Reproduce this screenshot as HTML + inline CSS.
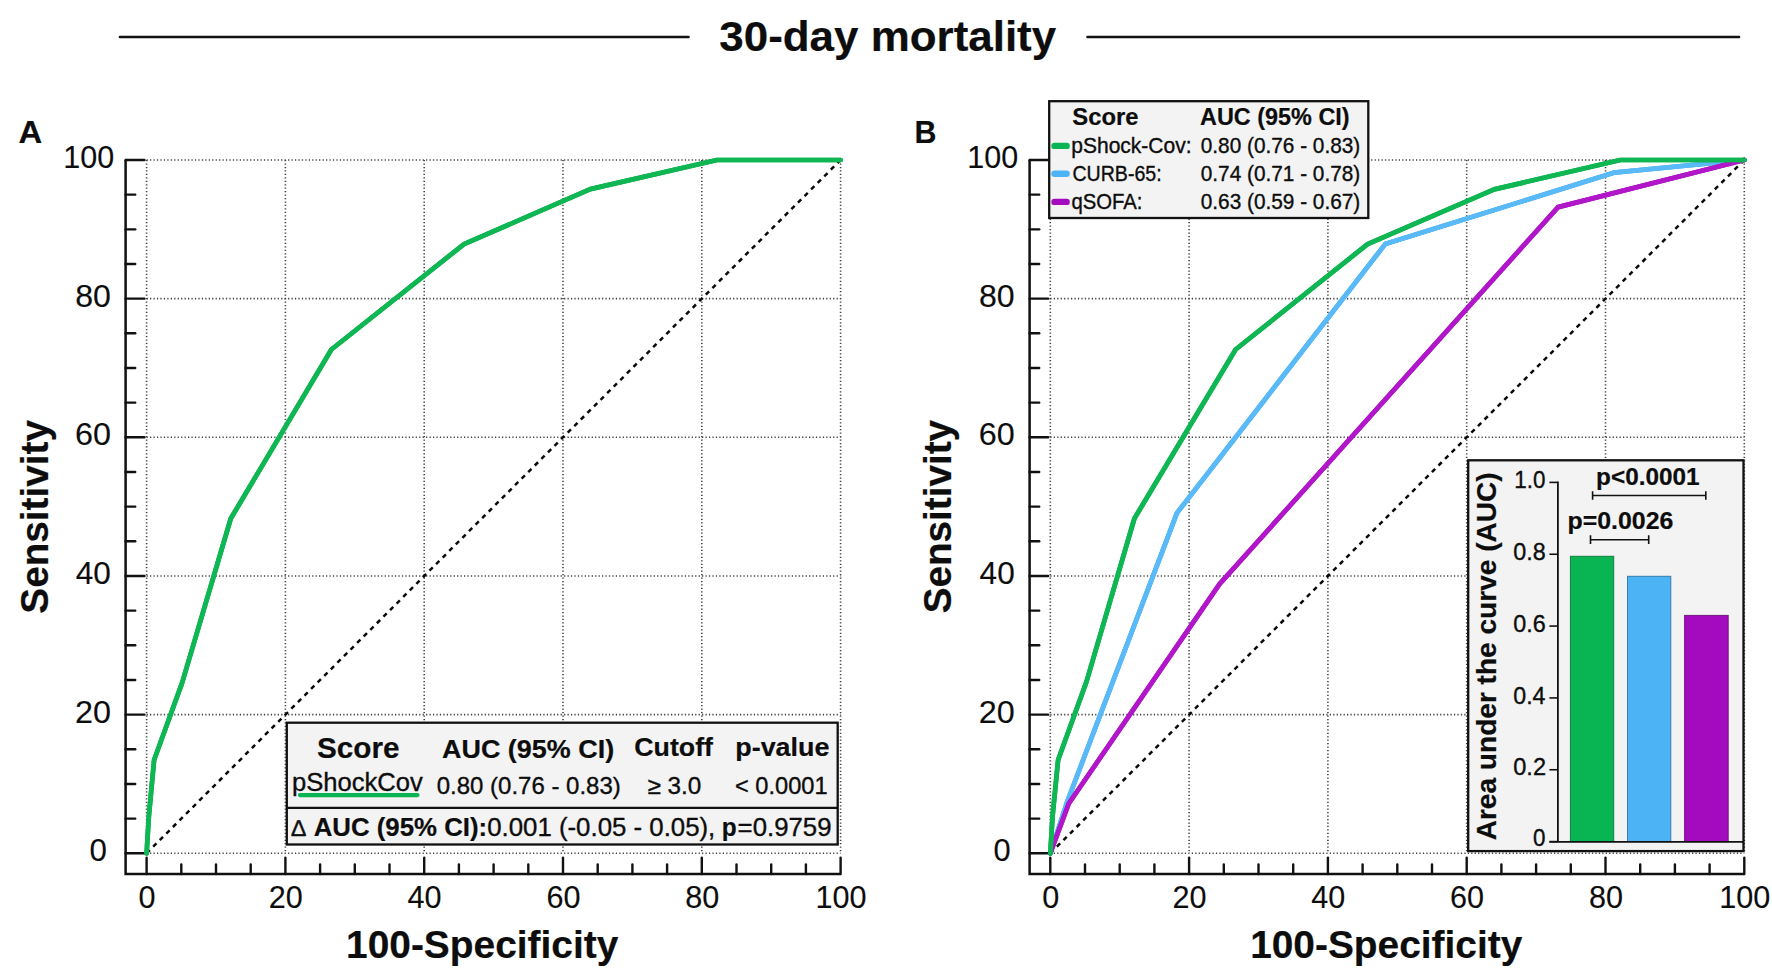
<!DOCTYPE html>
<html lang="en">
<head>
<meta charset="utf-8">
<title>30-day mortality</title>
<style>
html,body{margin:0;padding:0;background:#fff;}
body{width:1772px;height:970px;overflow:hidden;}
svg{display:block;font-family:"Liberation Sans", Arial, Helvetica, sans-serif;fill:#0d0d0d;}
text{stroke:#0d0d0d;stroke-width:0.35px;stroke-linejoin:round;}
text.b{stroke-width:0.2px;}
.g{stroke:#444;stroke-width:1.6;stroke-dasharray:1.25 2.2;fill:none;}
.d{stroke:#0a0a0a;stroke-width:2.5;stroke-dasharray:4.6 4.7;fill:none;}
.ax{stroke:#111;stroke-width:2.5;fill:none;stroke-linejoin:miter;}
.tk{stroke:#111;stroke-width:2.4;fill:none;stroke-linecap:round;}
.tl{font-size:30.6px;stroke-width:0.12px;}
.c{fill:none;stroke-width:4.7;stroke-linejoin:round;stroke-linecap:round;}
.b{font-weight:bold;}
.box{fill:#f3f3f3;stroke:#111;stroke-width:2.3;}
</style>
</head>
<body>
<svg width="1772" height="970" viewBox="0 0 1772 970">
<rect width="1772" height="970" fill="#fff"/>

<line x1="120" y1="37" x2="688.5" y2="37" stroke="#111" stroke-width="2.6" stroke-linecap="round"/>
<line x1="1087.5" y1="37" x2="1739" y2="37" stroke="#111" stroke-width="2.6" stroke-linecap="round"/>
<text id="title" class="b" font-size="42.5" x="719.32" y="51.00" textLength="336.84" lengthAdjust="spacingAndGlyphs">30-day mortality</text>
<text id="lblA" class="b" font-size="30.7" x="18.55" y="143.30" textLength="23.72" lengthAdjust="spacingAndGlyphs">A</text>
<line class="g" x1="146.60" y1="160.00" x2="146.60" y2="853.30"/>
<line class="g" x1="146.60" y1="853.30" x2="840.60" y2="853.30"/>
<line class="g" x1="285.40" y1="160.00" x2="285.40" y2="853.30"/>
<line class="g" x1="146.60" y1="714.64" x2="840.60" y2="714.64"/>
<line class="g" x1="424.20" y1="160.00" x2="424.20" y2="853.30"/>
<line class="g" x1="146.60" y1="575.98" x2="840.60" y2="575.98"/>
<line class="g" x1="563.00" y1="160.00" x2="563.00" y2="853.30"/>
<line class="g" x1="146.60" y1="437.32" x2="840.60" y2="437.32"/>
<line class="g" x1="701.80" y1="160.00" x2="701.80" y2="853.30"/>
<line class="g" x1="146.60" y1="298.66" x2="840.60" y2="298.66"/>
<line class="g" x1="840.60" y1="160.00" x2="840.60" y2="853.30"/>
<line class="g" x1="146.60" y1="160.00" x2="840.60" y2="160.00"/>
<line class="d" x1="146.60" y1="853.30" x2="840.60" y2="160.00"/>
<path class="ax" d="M125.60 160.00V874.00H840.60"/>
<line class="tk" x1="125.60" y1="853.30" x2="144.40" y2="853.30"/>
<line class="tk" x1="146.60" y1="874.00" x2="146.60" y2="857.70"/>
<text id="ay0" class="tl" font-size="30.6" x="89.42" y="861.30" textLength="17.42" lengthAdjust="spacingAndGlyphs">0</text>
<text class="tl" text-anchor="middle" x="147.00" y="907.90">0</text>
<line class="tk" x1="125.60" y1="818.63" x2="135.20" y2="818.63"/>
<line class="tk" x1="181.30" y1="874.00" x2="181.30" y2="864.40"/>
<line class="tk" x1="125.60" y1="783.97" x2="135.20" y2="783.97"/>
<line class="tk" x1="216.00" y1="874.00" x2="216.00" y2="864.40"/>
<line class="tk" x1="125.60" y1="749.30" x2="135.20" y2="749.30"/>
<line class="tk" x1="250.70" y1="874.00" x2="250.70" y2="864.40"/>
<line class="tk" x1="125.60" y1="714.64" x2="144.40" y2="714.64"/>
<line class="tk" x1="285.40" y1="874.00" x2="285.40" y2="857.70"/>
<text id="ay20" class="tl" font-size="30.6" x="74.97" y="722.64" textLength="35.98" lengthAdjust="spacingAndGlyphs">20</text>
<text class="tl" text-anchor="middle" x="285.80" y="907.90">20</text>
<line class="tk" x1="125.60" y1="679.97" x2="135.20" y2="679.97"/>
<line class="tk" x1="320.10" y1="874.00" x2="320.10" y2="864.40"/>
<line class="tk" x1="125.60" y1="645.31" x2="135.20" y2="645.31"/>
<line class="tk" x1="354.80" y1="874.00" x2="354.80" y2="864.40"/>
<line class="tk" x1="125.60" y1="610.64" x2="135.20" y2="610.64"/>
<line class="tk" x1="389.50" y1="874.00" x2="389.50" y2="864.40"/>
<line class="tk" x1="125.60" y1="575.98" x2="144.40" y2="575.98"/>
<line class="tk" x1="424.20" y1="874.00" x2="424.20" y2="857.70"/>
<text id="ay40" class="tl" font-size="30.6" x="75.78" y="583.98" textLength="35.14" lengthAdjust="spacingAndGlyphs">40</text>
<text class="tl" text-anchor="middle" x="424.60" y="907.90">40</text>
<line class="tk" x1="125.60" y1="541.31" x2="135.20" y2="541.31"/>
<line class="tk" x1="458.90" y1="874.00" x2="458.90" y2="864.40"/>
<line class="tk" x1="125.60" y1="506.65" x2="135.20" y2="506.65"/>
<line class="tk" x1="493.60" y1="874.00" x2="493.60" y2="864.40"/>
<line class="tk" x1="125.60" y1="471.98" x2="135.20" y2="471.98"/>
<line class="tk" x1="528.30" y1="874.00" x2="528.30" y2="864.40"/>
<line class="tk" x1="125.60" y1="437.32" x2="144.40" y2="437.32"/>
<line class="tk" x1="563.00" y1="874.00" x2="563.00" y2="857.70"/>
<text id="ay60" class="tl" font-size="30.6" x="74.97" y="445.32" textLength="35.98" lengthAdjust="spacingAndGlyphs">60</text>
<text class="tl" text-anchor="middle" x="563.40" y="907.90">60</text>
<line class="tk" x1="125.60" y1="402.65" x2="135.20" y2="402.65"/>
<line class="tk" x1="597.70" y1="874.00" x2="597.70" y2="864.40"/>
<line class="tk" x1="125.60" y1="367.99" x2="135.20" y2="367.99"/>
<line class="tk" x1="632.40" y1="874.00" x2="632.40" y2="864.40"/>
<line class="tk" x1="125.60" y1="333.32" x2="135.20" y2="333.32"/>
<line class="tk" x1="667.10" y1="874.00" x2="667.10" y2="864.40"/>
<line class="tk" x1="125.60" y1="298.66" x2="144.40" y2="298.66"/>
<line class="tk" x1="701.80" y1="874.00" x2="701.80" y2="857.70"/>
<text id="ay80" class="tl" font-size="30.6" x="75.25" y="306.66" textLength="35.69" lengthAdjust="spacingAndGlyphs">80</text>
<text class="tl" text-anchor="middle" x="702.20" y="907.90">80</text>
<line class="tk" x1="125.60" y1="264.00" x2="135.20" y2="264.00"/>
<line class="tk" x1="736.50" y1="874.00" x2="736.50" y2="864.40"/>
<line class="tk" x1="125.60" y1="229.33" x2="135.20" y2="229.33"/>
<line class="tk" x1="771.20" y1="874.00" x2="771.20" y2="864.40"/>
<line class="tk" x1="125.60" y1="194.66" x2="135.20" y2="194.66"/>
<line class="tk" x1="805.90" y1="874.00" x2="805.90" y2="864.40"/>
<line class="tk" x1="125.60" y1="160.00" x2="144.40" y2="160.00"/>
<line class="tk" x1="840.60" y1="874.00" x2="840.60" y2="857.70"/>
<text id="ay100" class="tl" font-size="30.6" x="63.26" y="168.00" textLength="50.89" lengthAdjust="spacingAndGlyphs">100</text>
<text class="tl" text-anchor="middle" x="841.00" y="907.90">100</text>
<polyline class="c" stroke="#08a742" points="146.6,853.3 148.8,817 154.1,760 182.1,682.9 230.8,518.5 331.4,349.5 464,244.1 590.3,189.1 717,160 840.6,160"/>
<polyline class="c" stroke="#0eb753" stroke-width="1.7" points="146.6,853.3 148.8,817 154.1,760 182.1,682.9 230.8,518.5 331.4,349.5 464,244.1 590.3,189.1 717,160 840.6,160"/>
<text id="sensA" class="b" font-size="38" transform="translate(48.30 613.67) rotate(-90)" textLength="193.60" lengthAdjust="spacingAndGlyphs">Sensitivity</text>
<text id="specA" class="b" font-size="38.2" x="346.01" y="957.60" textLength="272.40" lengthAdjust="spacingAndGlyphs">100-Specificity</text>
<rect class="box" x="286.8" y="722.7" width="550.9" height="121.8"/>
<line x1="286.8" y1="807.8" x2="837.7" y2="807.8" stroke="#111" stroke-width="2.3"/>
<text id="a_score" class="b" font-size="29" x="316.93" y="758.20" textLength="82.55" lengthAdjust="spacingAndGlyphs">Score</text>
<text id="a_auc" class="b" font-size="26.3" x="441.99" y="758.00" textLength="172.12" lengthAdjust="spacingAndGlyphs">AUC (95% CI)</text>
<text id="a_cut" class="b" font-size="26" x="634.32" y="756.10" textLength="78.69" lengthAdjust="spacingAndGlyphs">Cutoff</text>
<text id="a_pv" class="b" font-size="26" x="735.24" y="756.10" textLength="94.26" lengthAdjust="spacingAndGlyphs">p-value</text>
<text id="a_name" font-size="25.3" x="291.98" y="790.70" textLength="130.89" lengthAdjust="spacingAndGlyphs">pShockCov</text>
<line x1="300" y1="795.1" x2="417.5" y2="795.1" stroke="#09b452" stroke-width="4.2" stroke-linecap="round"/>
<text id="a_val" font-size="23.6" x="436.79" y="793.70" textLength="183.93" lengthAdjust="spacingAndGlyphs">0.80 (0.76 - 0.83)</text>
<text id="a_ge" font-size="23.8" x="647.49" y="794.00" textLength="53.79" lengthAdjust="spacingAndGlyphs">≥ 3.0</text>
<text id="a_lt" font-size="23.6" x="735.00" y="794.00" textLength="92.60" lengthAdjust="spacingAndGlyphs">&lt; 0.0001</text>
<text id="a_d" font-size="23" x="291.40" y="836.30" textLength="14.27" lengthAdjust="spacingAndGlyphs">∆</text>
<text id="a_dauc" class="b" font-size="25.6" x="313.65" y="836.20" textLength="173.54" lengthAdjust="spacingAndGlyphs">AUC (95% CI):</text>
<text id="a_dval" font-size="25.6" x="487.19" y="836.20" textLength="228.09" lengthAdjust="spacingAndGlyphs">0.001 (-0.05 - 0.05),</text>
<text id="a_dp" class="b" font-size="25.6" x="721.87" y="836.20" textLength="14.92" lengthAdjust="spacingAndGlyphs">p</text>
<text id="a_dpv" font-size="25.6" x="737.64" y="836.20" textLength="93.90" lengthAdjust="spacingAndGlyphs">=0.9759</text>
<text id="lblB" class="b" font-size="30.7" x="914.42" y="143.20" textLength="21.94" lengthAdjust="spacingAndGlyphs">B</text>
<line class="g" x1="1050.30" y1="160.00" x2="1050.30" y2="853.30"/>
<line class="g" x1="1050.30" y1="853.30" x2="1744.30" y2="853.30"/>
<line class="g" x1="1189.10" y1="160.00" x2="1189.10" y2="853.30"/>
<line class="g" x1="1050.30" y1="714.64" x2="1744.30" y2="714.64"/>
<line class="g" x1="1327.90" y1="160.00" x2="1327.90" y2="853.30"/>
<line class="g" x1="1050.30" y1="575.98" x2="1744.30" y2="575.98"/>
<line class="g" x1="1466.70" y1="160.00" x2="1466.70" y2="853.30"/>
<line class="g" x1="1050.30" y1="437.32" x2="1744.30" y2="437.32"/>
<line class="g" x1="1605.50" y1="160.00" x2="1605.50" y2="853.30"/>
<line class="g" x1="1050.30" y1="298.66" x2="1744.30" y2="298.66"/>
<line class="g" x1="1744.30" y1="160.00" x2="1744.30" y2="853.30"/>
<line class="g" x1="1050.30" y1="160.00" x2="1744.30" y2="160.00"/>
<line class="d" x1="1050.30" y1="853.30" x2="1744.30" y2="160.00"/>
<path class="ax" d="M1029.60 160.00V874.00H1744.30"/>
<line class="tk" x1="1029.60" y1="853.30" x2="1048.10" y2="853.30"/>
<line class="tk" x1="1050.30" y1="874.00" x2="1050.30" y2="857.70"/>
<text id="by0" class="tl" font-size="30.6" x="993.49" y="861.30" textLength="17.13" lengthAdjust="spacingAndGlyphs">0</text>
<text class="tl" text-anchor="middle" x="1050.70" y="907.90">0</text>
<line class="tk" x1="1029.60" y1="818.63" x2="1039.20" y2="818.63"/>
<line class="tk" x1="1085.00" y1="874.00" x2="1085.00" y2="864.40"/>
<line class="tk" x1="1029.60" y1="783.97" x2="1039.20" y2="783.97"/>
<line class="tk" x1="1119.70" y1="874.00" x2="1119.70" y2="864.40"/>
<line class="tk" x1="1029.60" y1="749.30" x2="1039.20" y2="749.30"/>
<line class="tk" x1="1154.40" y1="874.00" x2="1154.40" y2="864.40"/>
<line class="tk" x1="1029.60" y1="714.64" x2="1048.10" y2="714.64"/>
<line class="tk" x1="1189.10" y1="874.00" x2="1189.10" y2="857.70"/>
<text id="by20" class="tl" font-size="30.6" x="978.77" y="722.64" textLength="35.98" lengthAdjust="spacingAndGlyphs">20</text>
<text class="tl" text-anchor="middle" x="1189.50" y="907.90">20</text>
<line class="tk" x1="1029.60" y1="679.97" x2="1039.20" y2="679.97"/>
<line class="tk" x1="1223.80" y1="874.00" x2="1223.80" y2="864.40"/>
<line class="tk" x1="1029.60" y1="645.31" x2="1039.20" y2="645.31"/>
<line class="tk" x1="1258.50" y1="874.00" x2="1258.50" y2="864.40"/>
<line class="tk" x1="1029.60" y1="610.64" x2="1039.20" y2="610.64"/>
<line class="tk" x1="1293.20" y1="874.00" x2="1293.20" y2="864.40"/>
<line class="tk" x1="1029.60" y1="575.98" x2="1048.10" y2="575.98"/>
<line class="tk" x1="1327.90" y1="874.00" x2="1327.90" y2="857.70"/>
<text id="by40" class="tl" font-size="30.6" x="979.58" y="583.98" textLength="35.14" lengthAdjust="spacingAndGlyphs">40</text>
<text class="tl" text-anchor="middle" x="1328.30" y="907.90">40</text>
<line class="tk" x1="1029.60" y1="541.31" x2="1039.20" y2="541.31"/>
<line class="tk" x1="1362.60" y1="874.00" x2="1362.60" y2="864.40"/>
<line class="tk" x1="1029.60" y1="506.65" x2="1039.20" y2="506.65"/>
<line class="tk" x1="1397.30" y1="874.00" x2="1397.30" y2="864.40"/>
<line class="tk" x1="1029.60" y1="471.98" x2="1039.20" y2="471.98"/>
<line class="tk" x1="1432.00" y1="874.00" x2="1432.00" y2="864.40"/>
<line class="tk" x1="1029.60" y1="437.32" x2="1048.10" y2="437.32"/>
<line class="tk" x1="1466.70" y1="874.00" x2="1466.70" y2="857.70"/>
<text id="by60" class="tl" font-size="30.6" x="978.77" y="445.32" textLength="35.98" lengthAdjust="spacingAndGlyphs">60</text>
<text class="tl" text-anchor="middle" x="1467.10" y="907.90">60</text>
<line class="tk" x1="1029.60" y1="402.65" x2="1039.20" y2="402.65"/>
<line class="tk" x1="1501.40" y1="874.00" x2="1501.40" y2="864.40"/>
<line class="tk" x1="1029.60" y1="367.99" x2="1039.20" y2="367.99"/>
<line class="tk" x1="1536.10" y1="874.00" x2="1536.10" y2="864.40"/>
<line class="tk" x1="1029.60" y1="333.32" x2="1039.20" y2="333.32"/>
<line class="tk" x1="1570.80" y1="874.00" x2="1570.80" y2="864.40"/>
<line class="tk" x1="1029.60" y1="298.66" x2="1048.10" y2="298.66"/>
<line class="tk" x1="1605.50" y1="874.00" x2="1605.50" y2="857.70"/>
<text id="by80" class="tl" font-size="30.6" x="979.04" y="306.66" textLength="35.69" lengthAdjust="spacingAndGlyphs">80</text>
<text class="tl" text-anchor="middle" x="1605.90" y="907.90">80</text>
<line class="tk" x1="1029.60" y1="264.00" x2="1039.20" y2="264.00"/>
<line class="tk" x1="1640.20" y1="874.00" x2="1640.20" y2="864.40"/>
<line class="tk" x1="1029.60" y1="229.33" x2="1039.20" y2="229.33"/>
<line class="tk" x1="1674.90" y1="874.00" x2="1674.90" y2="864.40"/>
<line class="tk" x1="1029.60" y1="194.66" x2="1039.20" y2="194.66"/>
<line class="tk" x1="1709.60" y1="874.00" x2="1709.60" y2="864.40"/>
<line class="tk" x1="1029.60" y1="160.00" x2="1048.10" y2="160.00"/>
<line class="tk" x1="1744.30" y1="874.00" x2="1744.30" y2="857.70"/>
<text id="by100" class="tl" font-size="30.6" x="967.31" y="168.00" textLength="50.89" lengthAdjust="spacingAndGlyphs">100</text>
<text class="tl" text-anchor="middle" x="1744.70" y="907.90">100</text>
<polyline class="c" stroke="#259ff4" points="1050.3,853.3 1067.4,801.3 1176.9,513.1 1385.2,244.1 1613.7,172.7 1744.3,160"/>
<polyline class="c" stroke="#5abaf8" stroke-width="1.7" points="1050.3,853.3 1067.4,801.3 1176.9,513.1 1385.2,244.1 1613.7,172.7 1744.3,160"/>
<polyline class="c" stroke="#9d08c3" points="1050.3,853.3 1068.8,803.5 1219.5,584.1 1558.1,207.1 1744.3,160"/>
<polyline class="c" stroke="#b116c9" stroke-width="1.7" points="1050.3,853.3 1068.8,803.5 1219.5,584.1 1558.1,207.1 1744.3,160"/>
<polyline class="c" stroke="#08a742" points="1050.3,853.3 1052.5,817 1058.1,760 1086.5,681.6 1134.4,518.5 1235.6,349.5 1367.6,244.1 1494.2,189.4 1620.3,160 1744.3,160"/>
<polyline class="c" stroke="#0eb753" stroke-width="1.7" points="1050.3,853.3 1052.5,817 1058.1,760 1086.5,681.6 1134.4,518.5 1235.6,349.5 1367.6,244.1 1494.2,189.4 1620.3,160 1744.3,160"/>
<text id="sensB" class="b" font-size="38" transform="translate(951.00 613.37) rotate(-90)" textLength="193.45" lengthAdjust="spacingAndGlyphs">Sensitivity</text>
<text id="specB" class="b" font-size="38.2" x="1250.16" y="957.80" textLength="272.10" lengthAdjust="spacingAndGlyphs">100-Specificity</text>
<rect class="box" x="1049.2" y="101.2" width="319.1" height="116.8"/>
<text id="b_score" class="b" font-size="23.6" x="1072.29" y="124.80" textLength="66.24" lengthAdjust="spacingAndGlyphs">Score</text>
<text id="b_auc" class="b" font-size="23.4" x="1200.00" y="124.80" textLength="149.67" lengthAdjust="spacingAndGlyphs">AUC (95% CI)</text>
<line x1="1054.5" y1="145.9" x2="1066.6" y2="145.9" stroke="#09b452" stroke-width="6.4" stroke-linecap="round"/>
<text id="b_n0" font-size="21.2" x="1071.26" y="152.90" textLength="120.32" lengthAdjust="spacingAndGlyphs">pShock-Cov:</text>
<text id="b_v0" font-size="21.2" x="1200.76" y="152.90" textLength="159.46" lengthAdjust="spacingAndGlyphs">0.80 (0.76 - 0.83)</text>
<line x1="1054.5" y1="173.8" x2="1066.6" y2="173.8" stroke="#4cb3f5" stroke-width="6.4" stroke-linecap="round"/>
<text id="b_n1" font-size="21.2" x="1072.46" y="180.80" textLength="89.15" lengthAdjust="spacingAndGlyphs">CURB-65:</text>
<text id="b_v1" font-size="21.2" x="1200.76" y="180.80" textLength="159.46" lengthAdjust="spacingAndGlyphs">0.74 (0.71 - 0.78)</text>
<line x1="1054.5" y1="201.9" x2="1066.6" y2="201.9" stroke="#a50bbe" stroke-width="6.4" stroke-linecap="round"/>
<text id="b_n2" font-size="21.2" x="1071.43" y="208.70" textLength="71.03" lengthAdjust="spacingAndGlyphs">qSOFA:</text>
<text id="b_v2" font-size="21.2" x="1200.76" y="208.70" textLength="159.46" lengthAdjust="spacingAndGlyphs">0.63 (0.59 - 0.67)</text>
<rect class="box" x="1468.2" y="460.3" width="275.3" height="390.8"/>
<path d="M1557.9 481.59999999999997V841.6" stroke="#111" stroke-width="1.8" fill="none"/>
<line x1="1549.4" y1="841.60" x2="1557.9" y2="841.60" stroke="#111" stroke-width="1.6"/>
<text id="i_t0" font-size="23.2" x="1533.12" y="845.80" textLength="12.46" lengthAdjust="spacingAndGlyphs">0</text>
<line x1="1549.4" y1="769.76" x2="1557.9" y2="769.76" stroke="#111" stroke-width="1.6"/>
<text id="i_t1" font-size="23.2" x="1513.24" y="775.46" textLength="32.76" lengthAdjust="spacingAndGlyphs">0.2</text>
<line x1="1549.4" y1="697.92" x2="1557.9" y2="697.92" stroke="#111" stroke-width="1.6"/>
<text id="i_t2" font-size="23.2" x="1513.25" y="703.62" textLength="32.23" lengthAdjust="spacingAndGlyphs">0.4</text>
<line x1="1549.4" y1="626.08" x2="1557.9" y2="626.08" stroke="#111" stroke-width="1.6"/>
<text id="i_t3" font-size="23.2" x="1513.24" y="631.78" textLength="32.50" lengthAdjust="spacingAndGlyphs">0.6</text>
<line x1="1549.4" y1="554.24" x2="1557.9" y2="554.24" stroke="#111" stroke-width="1.6"/>
<text id="i_t4" font-size="23.2" x="1513.24" y="559.94" textLength="32.50" lengthAdjust="spacingAndGlyphs">0.8</text>
<line x1="1549.4" y1="482.40" x2="1557.9" y2="482.40" stroke="#111" stroke-width="1.6"/>
<text id="i_t5" font-size="23.2" x="1514.20" y="488.10" textLength="31.16" lengthAdjust="spacingAndGlyphs">1.0</text>
<rect x="1570.4" y="556.3" width="43.3" height="285.3" fill="#09b452" stroke="#06702f" stroke-opacity="0.85" stroke-width="1"/>
<rect x="1627.5" y="576.3" width="43.3" height="265.3" fill="#4cb3f5" stroke="#256fa3" stroke-opacity="0.85" stroke-width="1"/>
<rect x="1684.6" y="615.4" width="43.6" height="226.2" fill="#a50bbe" stroke="#650674" stroke-opacity="0.85" stroke-width="1"/>
<path d="M1549.4 841.8000000000001H1743.4" stroke="#111" stroke-width="1.7" fill="none"/>
<text id="i_p1" class="b" font-size="23.8" x="1596.11" y="485.00" textLength="103.51" lengthAdjust="spacingAndGlyphs">p&lt;0.0001</text>
<path d="M1592.6 491.2V499.8M1592.6 495.5H1705.8M1705.8 491.2V499.8" stroke="#111" stroke-width="1.6" fill="none"/>
<text id="i_p2" class="b" font-size="23.8" x="1567.49" y="529.40" textLength="105.82" lengthAdjust="spacingAndGlyphs">p=0.0026</text>
<path d="M1590.5 535.3V544.1M1590.5 539.7H1648.7M1648.7 535.3V544.1" stroke="#111" stroke-width="1.6" fill="none"/>
<text id="i_yl" class="b" font-size="28" transform="translate(1495.60 840.35) rotate(-90)" textLength="368.04" lengthAdjust="spacingAndGlyphs">Area under the curve (AUC)</text>
</svg>
</body>
</html>
